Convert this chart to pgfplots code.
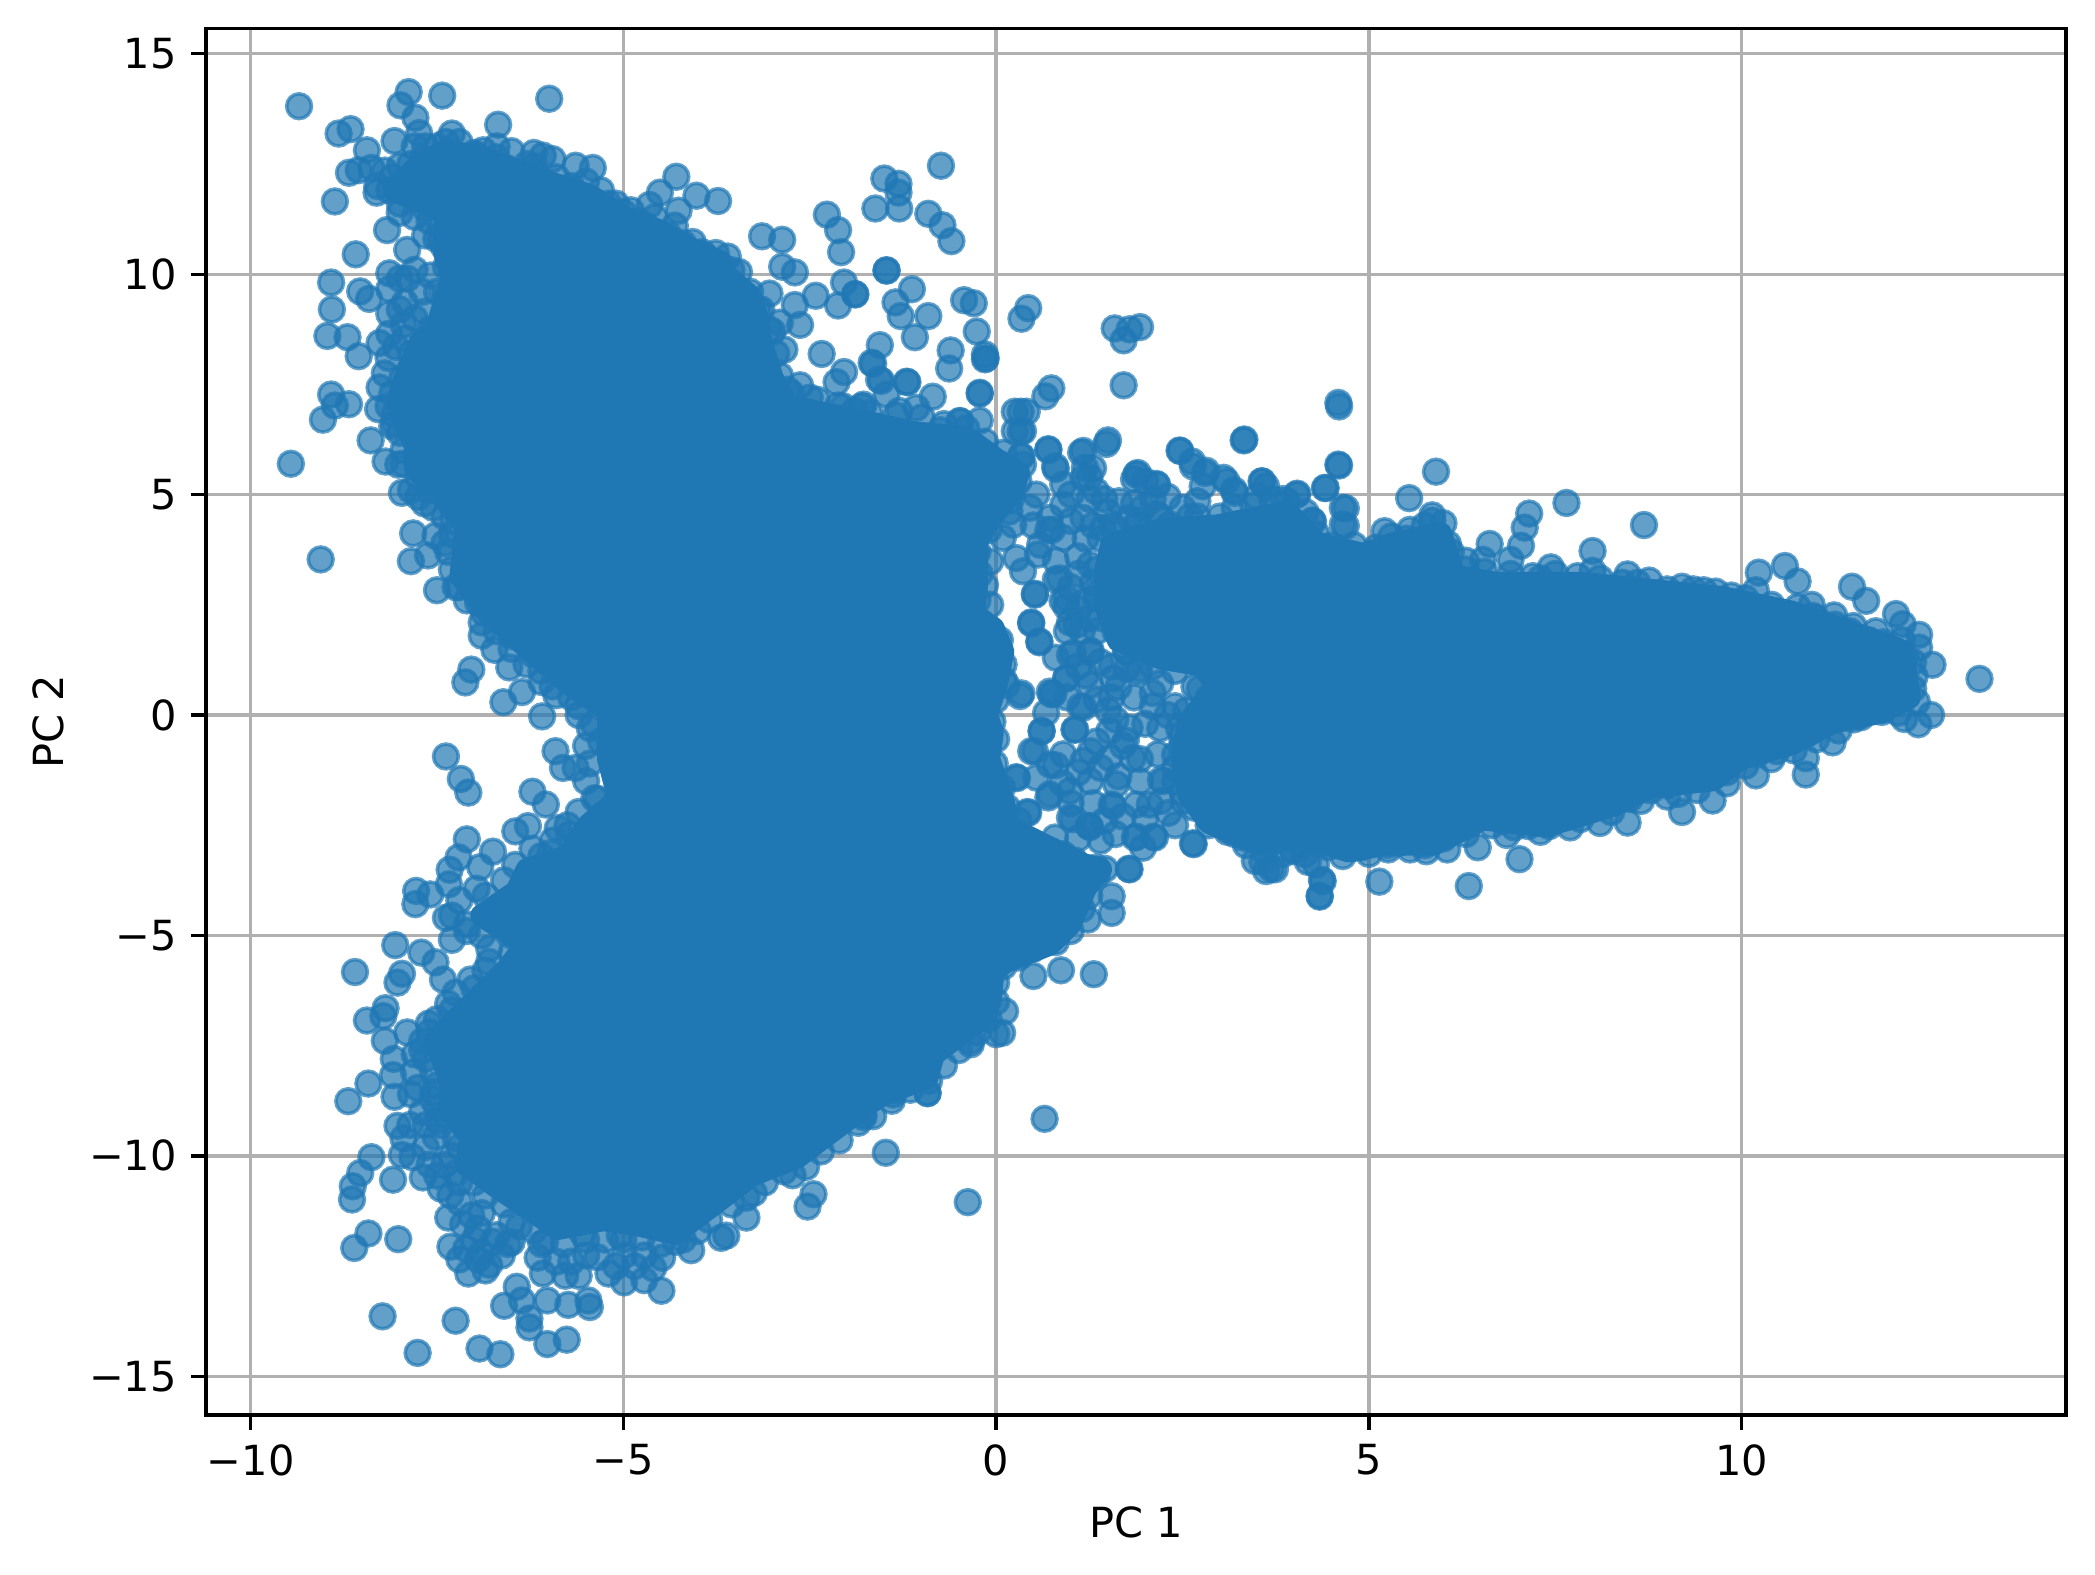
\documentclass[border=0pt]{standalone}
\usepackage{fontspec}
\setmainfont{DejaVu Sans}
\usepackage{pgfplots}
\pgfplotsset{compat=1.18}
\definecolor{tabblue}{HTML}{1F77B4}
\definecolor{gridgray}{HTML}{B0B0B0}
\pgfplotsset{layers/gridabove/.define layer set={axis background,pre main,main,axis grid,axis ticks,axis lines,axis tick labels,axis descriptions,axis foreground}{}}
\begin{document}
\begin{tikzpicture}
\path (-49.6pt,-38.5pt) rectangle (455.1pt,340.9pt);
\begin{axis}[
  at={(0pt,0pt)}, anchor=south west,
  set layers=gridabove,
  scale only axis, width=448.1pt, height=334.1pt,
  xmin=-10.6, xmax=14.35, ymin=-15.88, ymax=15.58,
  grid=major,
  grid style={color=gridgray, line width=0.8bp},
  axis line style={black, line width=0.8bp},
  tick style={black, line width=0.8bp},
  major tick length=3.5bp,
  tick align=outside, xtick pos=bottom, ytick pos=left,
  xtick={-10,-5,0,5,10}, xticklabels={−10,−5,0,5,10},
  ytick={-15,-10,-5,0,5,10,15}, yticklabels={−15,−10,−5,0,5,10,15},
  ticklabel style={font=\fontsize{10}{12}\selectfont},
  xlabel={PC 1}, ylabel={PC 2},
  label style={font=\fontsize{10}{12}\selectfont},
  xlabel style={at={(axis description cs:0.5,-0.0772)},anchor=center},
  ylabel style={at={(axis description cs:-0.0849,0.5)},anchor=center},
  clip=true,
]
% saturated interior of the left (upper and lower) lobes
\addplot[draw=tabblue, line width=5.5pt, line join=round, fill=tabblue, forget plot] coordinates {
(-7.38,12.81)(-6.84,12.61)(-6.22,12.2)(-5.47,11.8)(-4.99,11.29)(-4.51,10.98)(-4.1,10.58)(-3.69,10.27)(-3.62,9.97)(-3.3,9.5)(-3.2,9.0)(-3.15,8.44)(-3.0,7.63)(-2.8,7.02)(-2.25,6.82)(-1.64,6.61)(-1.09,6.4)(-0.4,6.3)(0,5.8)(0.3,5.5)(0.2,5.0)(-0.08,4.47)(-0.26,3.94)(-0.26,2.95)(-0.31,2.27)(-0.04,1.97)(0.09,1.44)(0,0.68)(-0.13,0)(-0.05,-0.4)(-0.1,-1.0)(0,-1.5)(0.1,-2)(0.18,-2.56)(1.17,-3.39)(1.4,-3.5)(1.2,-3.92)(0.99,-4.75)(0.72,-5.2)(0.14,-5.58)(-0.04,-5.81)(-0.08,-6.49)(-0.17,-6.87)(-0.49,-7.25)(-0.84,-7.7)(-0.93,-8.23)(-1.51,-8.6)(-1.71,-8.81)(-2.19,-9.42)(-2.67,-10.03)(-3.28,-10.44)(-3.83,-11.15)(-4.31,-11.76)(-4.85,-11.55)(-5.27,-11.45)(-5.88,-11.65)(-6.22,-11.25)(-6.7,-10.7)(-7.11,-10.2)(-7.04,-9.6)(-7.32,-9)(-7.32,-8.3)(-7.52,-7.39)(-7.11,-6.68)(-6.56,-5.77)(-6.3,-5.2)(-6.9,-4.55)(-6.43,-4)(-6.29,-3.5)(-5.74,-3.2)(-5.47,-2.5)(-5.06,-1.9)(-5.2,-1)(-5.2,0.1)(-5.74,0.72)(-6.29,1.53)(-6.84,2.35)(-7.18,3.16)(-7.11,4.28)(-7.45,5.0)(-7.79,5.6)(-7.79,6.1)(-7.93,6.61)(-8.03,7.12)(-7.93,7.63)(-7.73,8.44)(-7.5,8.8)(-7.3,9.9)(-7.4,10.5)(-7.38,11.39)(-8.07,11.9)(-7.73,12.5)
} --cycle;
% saturated interior of the right lobe
\addplot[draw=tabblue, line width=5.5pt, line join=round, fill=tabblue, forget plot] coordinates {
(1.55,3.88)(2.21,4.21)(2.96,4.29)(3.9,4.61)(4.3,3.9)(4.93,3.64)(5.31,3.88)(5.96,4.12)(6.15,3.15)(6.71,2.99)(7.84,2.99)(8.78,2.83)(9.72,2.67)(10.66,2.34)(11.5,1.86)(12.16,1.45)(12.25,0.4)(11.88,0.07)(11.22,-0.17)(10.66,-0.66)(10.0,-0.98)(9.62,-1.47)(8.78,-1.63)(8.31,-2.03)(7.37,-2.52)(6.53,-2.36)(5.87,-2.93)(5.21,-2.93)(4.74,-3.09)(4.08,-2.76)(3.52,-2.93)(2.86,-2.44)(2.58,-1.79)(2.49,-0.98)(2.58,-0.17)(2.96,0.64)(2.77,1.13)(2.21,1.29)(1.64,1.69)(1.46,2.5)(1.46,3.23)
} --cycle;
% individually visible points
\addplot[only marks, mark=*, mark size=3.0pt,
  mark options={fill=tabblue, draw=tabblue, line width=0.85pt, fill opacity=0.7, draw opacity=0.7}]
 coordinates {
(-9.35,13.81)(-7.88,14.13)(-7.99,13.83)(-7.43,14.05)(-5.995,13.98)(-7.79,13.55)(-8.82,13.19)(-8.66,13.29)(-7.74,13.20)(-7.30,13.19)(-6.68,13.39)(-8.44,12.81)(-8.07,13.02)(-6.88,12.81)(-6.50,12.79)(-6.08,12.69)(-5.95,12.61)(-5.64,12.46)(-5.41,12.41)(-8.38,12.41)(-8.68,12.30)(-8.55,12.36)(-8.31,11.85)(-8.87,11.65)(-8.0,11.39)(-8.17,11.0)(-7.66,11.49)(-7.51,10.80)(-8.59,10.45)(-7.90,10.55)
(-4.29,12.21)(-4.51,11.85)(-4.65,11.57)(-4.26,11.44)(-4.02,11.78)(-3.73,11.66)(-4.07,10.73)(-3.76,10.48)(-3.55,10.09)(-3.14,10.86)(-2.87,10.78)(-2.27,11.35)(-2.12,11.0)(-2.08,10.5)(-1.50,12.17)(-1.31,12.05)(-1.31,11.85)(-1.30,11.49)(-1.62,11.49)(-0.74,12.46)(-0.91,11.37)(-0.72,11.11)(-0.60,10.75)(-1.47,10.09)(-2.87,10.17)(-2.70,10.04)(-2.04,9.81)(-1.89,9.54)(-2.12,9.29)(-1.13,9.66)(-1.35,9.36)(-1.28,9.05)(-0.91,9.05)(-1.09,8.57)(-0.43,9.41)(-0.30,9.34)(-0.26,8.70)(-0.61,8.27)(-0.63,7.86)(-0.14,8.09)(-0.15,8.18)(-0.22,7.29)(-1.56,8.39)(-1.65,7.97)(-2.04,7.78)(-2.14,7.55)(-2.34,8.19)(-2.63,8.85)(-2.84,8.29)(-2.63,7.48)(-2.80,7.38)(-3.45,9.31)(-3.04,9.56)(-2.42,9.51)(-1.54,7.58)(-1.19,7.55)(-0.85,7.22)(-1.47,7.27)(-1.78,7.04)(-2.12,7.02)(-0.22,6.68)(-0.48,6.66)(-0.75,6.46)(-1.07,6.97)(-1.57,7.61)(-2.9,8.9)(-2.7,9.3)(-3.2,9.2)(-3.0,8.7)(-2.5,7.2)(-2.9,7.1)(-1.9,6.9)(-1.3,6.9)
(-8.92,9.81)(-8.91,9.2)(-8.97,8.6)(-8.70,8.57)(-8.53,9.61)(-8.41,9.44)(-8.14,10.02)(-8.14,9.1)(-8.55,8.14)(-8.92,7.27)(-8.68,7.05)(-9.03,6.70)(-8.87,7.02)(-8.27,7.43)(-8.29,6.94)(-8.07,6.61)(-8.39,6.23)(-8.19,5.75)(-8.02,5.68)(-9.46,5.70)(-7.97,5.04)(-7.67,4.80)(-7.82,4.12)(-7.52,4.07)(-7.28,4.43)(-9.06,3.53)(-7.85,3.49)(-7.62,3.62)(-7.50,2.83)(-6.87,2.32)(-6.73,1.48)(-6.53,1.08)(-7.04,1.03)(-7.12,0.74)(-6.61,0.29)(-6.36,0.52)(-6.22,1.38)(-6.50,1.79)(-7.75,4.95)(-7.85,5.1)(-7.4,3.9)(-7.2,2.9)(-6.9,1.8)(-6.1,0.75)(-5.9,0.45)
(-8.14,9.66)(-7.93,9.36)(-7.66,9.15)(-7.38,9.46)(-7.11,9.97)(-7.38,10.17)(-7.59,9.97)(-8.27,8.44)(-8.14,8.65)(-7.93,8.54)(-7.59,8.75)(-7.97,7.63)(-8.07,6.82)(-7.93,7.12)(-7.66,10.88)(-7.45,11.08)(-7.45,10.78)(-7.93,11.9)(-8.14,11.9)(-7.73,12.3)(-7.86,12.5)(-7.66,12.9)(-7.38,13.0)(-6.56,12.4)(-6.29,12.5)(-5.2,11.6)(-4.58,11.29)(-4.31,11.1)(-7.0,12.7)(-7.1,11.0)(-5.0,11.4)(-4.8,11.2)(-3.9,10.4)(-3.7,10.2)(-4.1,9.9)(-4.4,9.5)(-7.0,9.5)(-7.0,9.1)(-7.3,8.9)
(-7.38,-0.94)(-7.18,-1.45)(-7.08,-1.76)(-6.22,-1.74)(-6.04,-2.03)(-5.39,-1.89)(-5.91,-0.82)(-5.64,-1.2)(-5.81,-1.2)(-6.09,-0.03)(-6.45,-2.64)(-6.28,-2.52)(-5.88,-2.57)(-5.73,-2.72)(-7.10,-2.82)(-6.75,-3.1)(-7.21,-3.23)(-6.92,-3.45)(-7.33,-3.51)(-7.34,-3.84)(-6.22,-3.03)(-5.98,-3.13)(-5.5,-3.18)(-7.78,-3.99)(-7.59,-4.07)(-7.79,-4.29)(-6.97,-3.94)(-7.38,-4.6)(-8.06,-5.22)(-7.71,-5.39)(-8.60,-5.83)(-7.52,-5.61)(-7.97,-5.87)(-8.03,-6.07)(-7.42,-6.0)(-8.19,-6.65)(-8.44,-6.93)(-8.22,-6.83)(-7.61,-7.0)(-8.20,-7.39)(-8.08,-7.8)(-8.09,-8.17)(-8.42,-8.36)(-8.69,-8.76)(-7.81,-8.1)(-8.07,-8.66)(-7.76,-8.46)(-7.56,-8.71)(-7.38,-9.07)(-8.03,-9.32)(-7.86,-9.3)(-7.52,-9.57)(-8.38,-10.03)(-7.97,-9.98)(-7.83,-10.03)(-8.53,-10.39)(-8.63,-10.69)(-8.64,-10.99)(-8.09,-10.54)(-7.69,-10.49)(-7.45,-10.74)(-7.32,-10.89)(-7.35,-11.4)(-7.04,-11.35)(-8.42,-11.76)(-8.02,-11.89)(-8.61,-12.09)(-7.32,-12.06)(-7.11,-12.11)(-7.08,-12.67)(-6.8,-12.47)(-6.63,-12.26)(-6.5,-11.96)(-6.15,-12.31)(-6.08,-12.67)(-5.5,-12.26)(-5.78,-12.72)(-5.6,-12.72)(-5.2,-12.67)(-4.99,-12.26)(-4.99,-12.87)(-4.72,-12.26)(-4.48,-12.31)(-4.72,-12.82)(-4.49,-13.06)(-4.09,-12.14)(-3.69,-11.86)(-3.62,-11.81)(-3.35,-11.4)(-2.73,-10.44)(-2.53,-11.15)(-2.45,-10.87)(-1.78,-9.12)(-1.48,-9.93)(-1.37,-8.51)(-0.92,-8.58)(-0.34,-7.39)(-0.38,-11.05)(-0.0,-7.24)(-3.25,-10.84)
(-6.43,-12.97)(-6.60,-13.4)(-6.36,-13.28)(-6.02,-13.28)(-5.74,-13.38)(-5.47,-13.28)(-5.45,-13.43)(-6.26,-13.89)(-6.02,-14.27)(-5.76,-14.17)(-6.26,-13.69)(-8.23,-13.64)(-7.25,-13.74)(-7.76,-14.47)(-6.93,-14.37)(-6.65,-14.5)
(-6.9,-12.2)(-7.0,-11.9)(-6.7,-11.8)(-6.5,-11.5)(-6.1,-12.0)(-5.5,-11.9)(-5.0,-11.9)(-4.2,-11.9)(-7.2,-10.6)(-7.4,-10.2)(-7.2,-9.8)(-7.5,-9.2)(-7.5,-8.4)(-7.7,-7.6)(-7.6,-7.2)(-7.3,-6.7)(-7.0,-6.2)(-6.8,-5.6)(-7.3,-5.1)(-7.1,-4.9)(-6.6,-4.6)(-6.4,-4.6)(-6.1,-4.2)(-5.8,-3.7)(-5.6,-2.9)(-5.3,-2.3)(-5.3,-0.6)(-5.4,-0.2)(-5.6,0.2)
(-1.47,10.08)(-1.89,9.55)(-0.15,8.07)(-1.67,7.99)(-1.2,7.56)(-0.22,7.31)(-1.8,7.0)(-0.49,6.67)
(0.43,9.23)(0.34,8.99)(1.59,8.77)(1.93,8.80)(1.71,8.5)(1.79,8.75)(1.71,7.48)(0.74,7.41)(0.66,7.23)(0.25,6.88)(0.41,6.88)(0.25,6.44)(0.36,6.44)(0.70,6.01)(0.34,5.87)(1.48,6.15)(1.14,5.95)(0.79,5.64)(0.36,5.68)(1.19,5.61)(1.90,5.49)(2.15,5.24)(2.46,6.0)(2.64,5.64)(2.8,5.49)(3.09,5.30)(2.77,5.19)(3.32,6.23)(3.56,5.30)(3.62,5.19)(3.2,5.04)(4.03,5.0)(4.42,5.15)(4.59,5.68)(4.59,7.08)(4.65,4.7)(4.65,4.32)(4.25,4.39)(0.54,5)(0.9,5.23)(1.17,5.38)(1.34,5.08)(0.16,5.38)(1.3,5.6)(1.25,5.4)(1.85,5.35)(2.0,5.3)(2.3,4.95)(2.7,4.85)(3.5,4.95)(3.85,4.9)
(-0.62,4.7)(0.09,4.02)(-0.08,3.48)(-0.15,2.95)(-0.08,2.5)(0.27,3.56)(0.36,3.26)(0.52,2.73)(0.47,2.08)(0.58,1.67)(0.18,4.62)(0.23,4.32)(0.59,3.86)(0.72,4.47)(0.9,4.77)(0.9,4.02)(1.17,4.47)(0.85,3.1)(0.94,2.65)(0.94,2.46)(1.08,2.05)(1.26,3.41)(1.34,2.65)(1.43,4.24)(1.79,4.47)(1.97,4.7)(2.33,4.32)(0.99,1.36)(1.26,1.44)(1.75,1.44)(1.9,0.98)(0.94,0.83)(1.26,0.68)(0.72,0.53)(1.57,0.83)(0.34,0.49)(0.14,0.68)(-0.76,0.45)(2.73,0.6)(1.1,3.6)(0.8,3.5)(1.0,2.9)(1.3,3.0)(1.25,2.2)(1.35,1.9)(1.2,4.0)(0.7,4.2)(0.45,4.7)(1.5,4.6)(2.6,4.5)
(1.79,-3.5)(1.55,-4.11)(1.55,-4.49)(1.23,-4.64)(1.97,-3.01)(1.86,-2.78)(2.13,-2.78)(2.64,-2.91)(1.26,-2.54)(0.99,-2.33)(0.43,-2.22)(0.27,-1.41)(0.47,-0.82)(0.61,-0.36)(1.05,-0.33)(0.67,0.05)(0.74,0.47)(0.32,0.43)(1.17,0.17)(1.57,-2.07)(1.88,-2.03)(2.31,-2.22)(2.51,-1.95)(2.17,-0.89)(1.93,-1.0)(2.24,-1.5)(1.93,-1.5)(0.9,-0.89)(0.72,-1.12)(1.17,-1.04)(1.52,-0.97)(1.79,-0.29)(1.52,-0.36)(0.54,-1.42)(0.72,-1.8)(0.99,-1.72)(1.26,-1.5)(1.61,-1.57)(2.06,-2.03)(0.79,-2.78)(0.54,-3.09)(0.9,-3.16)(1.34,-3.46)(0.27,-2.78)(0.5,-5.92)(0.87,-5.79)(1.31,-5.88)(0,-6.07)(0.12,-6.72)(0.08,-7.21)(-0.34,-7.47)(-0.92,-8.57)(-1.38,-8.61)(0.65,-9.16)(-1.78,-9.06)(0.72,-4.98)(0.27,-5.28)(3.62,-3.54)(3.47,-3.31)(3.74,-3.5)(4.34,-4.12)(4.38,-3.77)(4.29,-3.39)(4.14,-3.16)(3.98,-3.05)(2.91,-2.41)(3.31,-2.78)(4.65,-2.93)(2.2,-0.3)(2.3,0.0)(1.35,-0.6)(1.7,-0.7)(1.1,-1.3)(1.4,-1.2)(2.4,-1.2)(2.5,-0.7)(2.4,0.2)(2.1,0.5)
(4.6,7.0)(4.6,5.66)(3.33,6.25)(5.9,5.52)(5.54,4.92)(4.41,5.15)(7.65,4.81)(8.69,4.31)(7.15,4.57)(7.09,4.25)(7.04,3.84)(5.85,4.53)(5.85,4.41)(5.21,4.17)(4.69,4.69)(4.69,4.29)(4.24,4.41)(3.57,5.3)(3.05,5.38)(2.82,5.54)(2.63,5.75)(2.47,5.99)(4.04,5.02)(3.19,5.1)(6.62,3.88)(6.53,3.52)(6.06,3.88)(8.0,3.72)(7.44,3.35)(6.9,3.52)(8.0,3.27)(8.47,3.19)(8.76,3.05)(9.2,2.91)(9.49,2.83)(9.86,2.71)(10.23,3.23)(10.19,2.83)(10.58,3.38)(10.75,3.03)(11.48,2.91)(11.67,2.59)(12.07,2.29)(11.8,1.9)(12.16,2.06)(12.38,1.82)(12.38,1.53)(12.56,1.14)(12.32,0.88)(13.19,0.82)(10.94,2.5)(11.24,2.26)(11.5,2.02)(10.38,2.34)(12.54,0)(12.37,-0.21)(12.18,-0.09)(11.88,0.07)(11.22,-0.62)(10.86,-0.98)(10.86,-1.35)(10.47,-0.82)(10.19,-1.37)(9.61,-1.94)(9.2,-2.2)(9.15,-1.79)(8.78,-1.71)(8.47,-2.44)(7.84,-2.36)(7.42,-2.52)(7.14,-2.52)(6.85,-2.72)(7.02,-3.27)(6.46,-3.0)(6.34,-3.88)(5.77,-3.09)(5.26,-3.05)(5.14,-3.78)(4.74,-3.01)(4.34,-4.1)(4.37,-3.74)(4.18,-3.33)(3.99,-3.09)(3.69,-3.49)(3.57,-3.33)(3.52,-2.76)(2.65,-2.93)(2.11,-2.76)(1.88,-2.76)(2.86,-2.36)(1.24,-2.52)(0.42,-2.2)(6.2,-2.52)(5.54,-2.72)
(5.5,4.0)(5.6,3.7)(6.3,3.3)(7.3,3.1)(8.4,3.0)(9.0,2.85)(11.0,2.2)(11.9,1.65)(12.2,1.3)(12.3,0.6)(11.5,-0.1)(10.9,-0.4)(10.2,-0.9)(9.8,-1.3)(9.0,-1.6)(8.5,-1.9)(7.7,-2.3)(6.8,-2.4)(6.0,-2.8)(5.4,-2.9)(4.9,-3.0)(4.3,-2.9)(3.7,-2.9)(3.2,-2.7)
(0.33,6.88)(0.33,6.43)(0.7,6.03)(1.5,6.23)(1.17,5.99)(0.8,5.58)(0.33,5.87)(1.88,5.46)(2.16,5.22)(0.52,2.75)(0.47,2.1)(0.58,1.65)(1.03,1.41)(1.27,1.45)(1.74,1.45)(1.92,1.05)(0.94,0.84)(0.77,0.48)(1.13,0.19)(1.64,0.64)(2.2,0.72)(2.66,0.64)(0.61,-0.37)(1.06,-0.33)(0.52,-0.82)(0.8,-1.14)(0.28,-1.43)(0.7,-1.87)(1.03,-2.36)(1.25,-2.52)(1.55,-2.03)(2.21,-1.95)(1.27,-0.82)(1.83,-0.98)(2.21,-1.47)(1.74,-0.58)(2.49,-0.49)(1.64,-1.39)(0.89,-1.55)(0.89,2.59)(0.99,2.1)(0.8,3.07)(0.56,3.64)(1.46,-3.49)(1.78,-3.49)(0.52,-3.41)(0.99,-3.65)
(-7.9,12.1)(-7.7,12.6)(-7.5,12.9)(-7.2,13.0)(-7.0,12.75)(-6.7,12.65)(-6.4,12.3)(-6.2,12.45)(-5.9,12.2)(-5.7,12.0)(-5.5,12.1)(-5.3,11.9)(-5.1,11.6)(-4.9,11.45)(-4.7,11.1)(-4.4,10.9)(-4.2,10.7)(-3.95,10.5)(-3.6,10.4)(-3.45,10.05)(-3.3,9.6)(-3.15,9.2)(-3.05,8.75)(-2.95,8.2)(-2.9,7.7)(-2.75,7.3)(-2.4,7.15)(-2.05,7.0)(-1.7,6.85)(-1.35,6.8)(-1.0,6.75)(-0.7,6.6)(-0.4,6.5)(-0.15,6.2)(0.1,5.95)
(-8.1,12.2)(-8.3,12.0)(-8.0,11.6)(-7.8,11.3)(-7.6,11.2)(-7.4,10.6)(-7.3,10.3)(-7.2,10.6)(-7.0,10.4)(-7.8,10.1)(-8.0,9.9)(-7.9,9.9)(-7.7,9.6)(-7.5,9.6)(-7.3,9.7)(-7.15,9.3)(-7.4,9.1)(-7.8,9.0)(-8.0,9.2)(-7.95,8.85)(-8.05,8.35)(-7.85,8.2)(-8.15,8.1)(-8.2,7.75)(-8.1,7.3)(-8.15,7.0)(-8.0,6.4)(-8.1,6.55)(-7.95,6.0)(-7.95,5.7)(-7.75,5.4)(-7.6,5.1)(-7.55,4.7)(-7.4,4.5)(-7.3,4.1)(-7.35,3.7)(-7.3,3.3)(-7.25,2.9)(-7.1,2.6)(-6.95,2.55)(-6.9,2.1)(-6.7,1.9)(-6.5,1.5)(-6.3,1.15)(-6.1,1.0)(-5.95,0.65)(-5.7,0.4)(-5.6,0.0)(-5.45,-0.3)(-5.5,-0.7)(-5.45,-1.1)(-5.5,-1.5)(-5.35,-1.9)(-5.6,-2.2)(-5.75,-2.5)(-5.95,-2.85)(-6.1,-3.2)(-6.45,-3.4)(-6.6,-3.75)(-6.85,-4.1)(-7.2,-4.2)(-7.3,-4.55)(-7.1,-4.75)(-6.9,-5.0)(-6.5,-5.0)(-6.5,-5.4)(-6.8,-5.3)(-6.85,-5.8)(-7.05,-6.0)(-7.25,-6.3)(-7.35,-6.55)(-7.5,-6.9)(-7.7,-7.4)(-7.65,-7.8)(-7.55,-8.1)(-7.55,-8.55)(-7.5,-8.9)(-7.45,-9.3)(-7.25,-9.6)(-7.3,-10.0)(-7.25,-10.4)(-7.0,-10.6)(-6.85,-10.9)(-6.6,-11.1)(-6.9,-11.3)(-6.4,-11.6)(-6.2,-11.7)(-6.05,-11.95)(-5.8,-12.0)(-5.55,-11.75)(-5.25,-11.9)(-5.05,-11.8)(-4.75,-11.85)(-4.5,-12.0)(-4.3,-11.95)(-4.0,-11.7)(-3.85,-11.45)(-3.55,-11.1)(-3.35,-10.95)(-3.1,-10.6)(-2.85,-10.35)(-2.55,-10.25)(-2.35,-9.9)(-2.1,-9.65)(-1.85,-9.25)(-1.65,-9.1)(-1.4,-8.75)(-1.15,-8.5)(-0.9,-8.3)(-0.7,-7.95)(-0.5,-7.6)(-0.25,-7.2)(-0.1,-6.9)(0.0,-6.5)
(1.4,4.0)(1.6,4.25)(1.9,4.4)(2.2,4.5)(2.5,4.7)(2.7,4.5)(3.0,4.5)(3.2,4.7)(3.45,4.75)(3.7,4.9)(3.9,4.85)(4.15,4.6)(4.3,4.1)(4.5,3.85)(4.8,3.85)(5.1,3.8)(5.3,4.05)(5.55,4.2)(5.75,4.3)(6.0,4.35)(6.1,3.7)(6.3,3.5)(6.55,3.25)(6.9,3.2)(7.2,3.15)(7.5,3.2)(7.8,3.15)(8.1,3.1)(8.6,3.0)(9.35,2.85)(9.65,2.8)(10.05,2.65)(10.4,2.5)(10.75,2.45)(10.95,2.25)(11.25,2.05)(11.45,1.9)(11.7,1.7)(11.95,1.55)(12.15,1.7)
(12.3,1.2)(12.35,0.3)(12.1,0.05)(11.6,-0.05)(11.3,-0.35)(11.0,-0.55)(10.7,-0.8)(10.4,-1.0)(10.05,-1.15)(9.8,-1.55)(9.4,-1.7)(9.0,-1.85)(8.65,-1.95)(8.25,-2.2)(8.1,-2.45)(7.7,-2.55)(7.3,-2.65)(6.95,-2.55)(6.65,-2.5)(6.3,-2.7)(6.05,-3.05)(5.75,-2.95)(5.55,-3.05)(5.25,-2.95)(5.0,-3.15)(4.65,-3.2)(4.45,-3.0)(4.1,-2.95)(3.85,-3.15)(3.6,-3.1)(3.35,-2.95)(3.1,-2.65)(2.85,-2.5)(2.65,-2.1)(2.5,-1.75)(2.4,-1.5)
(2.4,-0.9)(2.45,-0.3)(2.55,0.1)(2.85,0.4)(3.0,0.9)(2.85,1.25)(2.55,1.3)(2.2,1.45)(1.95,1.6)(1.6,1.9)(1.4,2.2)(1.35,2.75)(1.35,3.3)
(0.2,4.9)(0.5,4.3)(0.75,4.2)(1.0,4.4)(1.0,5.0)(1.25,4.9)(1.45,4.9)(1.65,4.85)(1.85,4.8)(2.1,4.9)(1.3,4.3)(1.55,4.3)(1.9,4.3)(2.15,4.55)
(1.1,3.2)(1.2,2.6)(1.1,2.4)(1.15,1.9)(0.95,1.9)(0.8,1.3)(1.1,1.1)(1.4,1.2)(1.55,1.1)(1.2,0.9)(1.75,1.05)(2.1,1.1)(2.4,1.0)(2.1,0.2)(1.85,0.4)(1.55,0.4)(1.35,0.35)(0.95,0.4)(1.5,0.1)(2.0,-0.2)(1.6,-0.1)
(1.0,-2.0)(1.3,-2.0)(1.45,-2.4)(1.7,-2.3)(2.0,-2.35)(2.4,-2.5)(1.6,-2.7)(1.4,-2.85)(1.1,-2.8)
(0.5,-2.9)(0.75,-3.1)(1.05,-3.3)(0.3,-2.4)(1.35,-3.65)(1.25,-4.1)(1.15,-4.4)(1.0,-4.9)(0.8,-5.15)(0.5,-5.3)(0.3,-5.5)(0.1,-5.7)
(-0.05,4.8)(-0.1,4.2)(-0.25,3.7)(-0.22,3.2)(-0.25,2.6)(-0.2,2.1)(0.05,1.7)(0.1,1.15)(0.1,0.8)(0.0,0.35)(-0.05,-0.15)(0.0,-0.55)(-0.02,-1.1)(0.08,-1.65)(0.15,-2.1)(0.3,5.3)(0.05,5.5)
(-7.9,-7.2)(-7.8,-7.7)(-7.85,-8.6)(-7.7,-9.0)(-7.65,-9.3)(-7.95,-9.6)(-7.65,-9.8)(-7.6,-10.2)(-7.5,-10.45)(-7.2,-11.05)(-7.15,-11.55)(-6.95,-11.65)(-6.75,-11.95)(-6.55,-12.0)(-6.85,-12.6)(-6.95,-12.35)(-7.2,-12.35)(-5.9,-12.4)(-5.7,-12.4)(-5.35,-12.3)(-5.1,-12.5)(-4.85,-12.5)(-4.6,-12.55)
(-8.0,12.45)(-7.8,12.9)(-8.2,12.35)(-7.55,12.3)(-6.2,12.75)(-6.7,12.9)
};
\end{axis}
\end{tikzpicture}
\end{document}
